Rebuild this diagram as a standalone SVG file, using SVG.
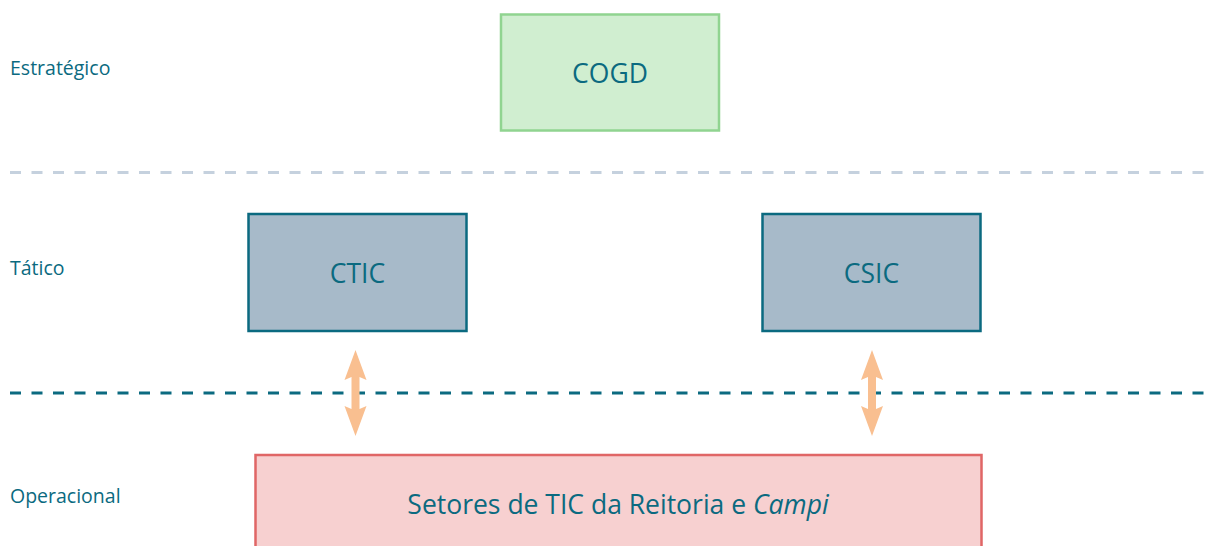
<svg xmlns="http://www.w3.org/2000/svg" width="1211" height="546" viewBox="0 0 1211 546">
<defs>
<style>
.lbl{font-family:"Open Sans","Noto Sans",sans-serif;font-size:19.5px;fill:#0b6a80}
.nt{font-family:"Open Sans","Noto Sans",sans-serif;font-size:26.5px;fill:#0b6a80;text-anchor:middle}
.tac{fill:#a7bac9;stroke:#0b6a80;stroke-width:2.5}
.arr{fill:#f9bf90}
</style>
<path id="dbl" d="M0,0 L11,30 L4,27 L4,59 L11,56 L0,86 L-11,56 L-4,59 L-4,27 L-11,30 Z"/>
</defs>
<rect width="1211" height="546" fill="#ffffff"/>
<g id="levels">
<line x1="10" y1="172.5" x2="1211" y2="172.5" stroke="#c5d1de" stroke-width="3" stroke-dasharray="11 10.5"/>
<line x1="10" y1="393" x2="1211" y2="393" stroke="#0b6a80" stroke-width="3" stroke-dasharray="11 10.5"/>
<text class="lbl" x="10" y="75">Estratégico</text>
<text class="lbl" x="10" y="275">Tático</text>
<text class="lbl" x="10" y="503">Operacional</text>
</g>
<g id="cogd">
<rect x="501" y="14.5" width="218" height="116" fill="#d0eed0" stroke="#90d490" stroke-width="2.5"/>
<text class="nt" x="610" y="83">COGD</text>
</g>
<g id="ctic">
<rect class="tac" x="248.5" y="214" width="218" height="117"/>
<text class="nt" x="357.5" y="283">CTIC</text>
</g>
<g id="csic">
<rect class="tac" x="762.5" y="214" width="218" height="117"/>
<text class="nt" x="871.5" y="283">CSIC</text>
</g>
<g id="setores">
<rect x="255.5" y="455" width="726" height="100" fill="#f7d0d0" stroke="#e06666" stroke-width="2.5"/>
<text class="nt" x="618" y="514" font-size="26">Setores de TIC da Reitoria e <tspan font-style="italic">Campi</tspan></text>
</g>
<g id="connectors">
<use href="#dbl" class="arr" x="355.5" y="350"/>
<use href="#dbl" class="arr" x="872" y="350"/>
</g>
</svg>
